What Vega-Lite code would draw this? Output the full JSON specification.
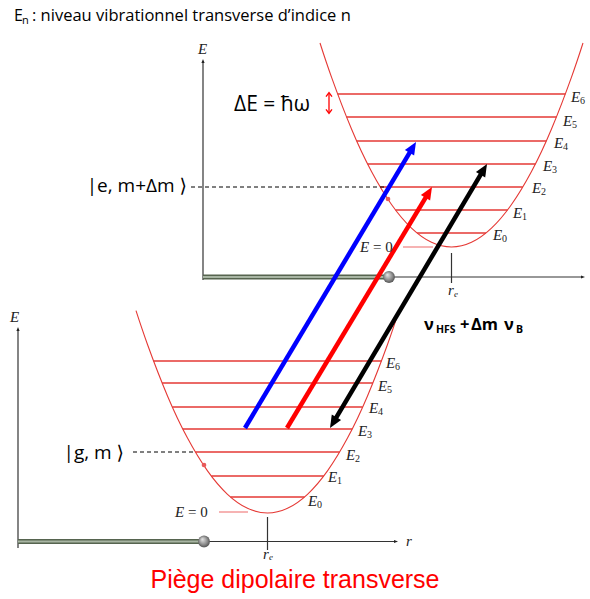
{
  "$schema": "https://vega.github.io/schema/vega-lite/v6.json",
  "width": 590,
  "height": 599,
  "autosize": {"type": "none"},
  "padding": 0,
  "background": "white",
  "config": {"view": {"stroke": null}},
  "datasets": {
    "par": [
      {"w": "u", "x": 320, "y": 43.0}, {"w": "u", "x": 331.5, "y": 77.1}, {"w": "u", "x": 351.5, "y": 129.0},
      {"w": "u", "x": 371.5, "y": 171.5}, {"w": "u", "x": 391.5, "y": 204.5}, {"w": "u", "x": 411.5, "y": 228.1},
      {"w": "u", "x": 431.5, "y": 242.3}, {"w": "u", "x": 451.5, "y": 247}, {"w": "u", "x": 471.5, "y": 242.3},
      {"w": "u", "x": 491.5, "y": 228.1}, {"w": "u", "x": 511.5, "y": 204.5}, {"w": "u", "x": 531.5, "y": 171.5},
      {"w": "u", "x": 551.5, "y": 129.0}, {"w": "u", "x": 571.5, "y": 77.1}, {"w": "u", "x": 583, "y": 43.0},
      {"w": "l", "x": 136, "y": 310.7}, {"w": "l", "x": 147.5, "y": 344.5}, {"w": "l", "x": 167.5, "y": 396},
      {"w": "l", "x": 187.5, "y": 438.1}, {"w": "l", "x": 207.5, "y": 470.9}, {"w": "l", "x": 227.5, "y": 494.3},
      {"w": "l", "x": 247.5, "y": 508.3}, {"w": "l", "x": 267.5, "y": 513}, {"w": "l", "x": 287.5, "y": 508.3},
      {"w": "l", "x": 307.5, "y": 494.3}, {"w": "l", "x": 327.5, "y": 470.9}, {"w": "l", "x": 347.5, "y": 438.1},
      {"w": "l", "x": 367.5, "y": 396}, {"w": "l", "x": 387.5, "y": 344.5}, {"w": "l", "x": 399, "y": 310.7}
    ],
    "levels": [
      {"x": 417.1, "x2": 485.9, "y": 233}, {"x": 395.5, "x2": 507.5, "y": 210}, {"x": 380.2, "x2": 522.8, "y": 187},
      {"x": 367.6, "x2": 535.4, "y": 164}, {"x": 356.7, "x2": 546.3, "y": 141}, {"x": 346.5, "x2": 556.5, "y": 117},
      {"x": 337.6, "x2": 565.4, "y": 94},
      {"x": 230.5, "x2": 304.5, "y": 497}, {"x": 211.3, "x2": 323.7, "y": 476}, {"x": 195.3, "x2": 339.7, "y": 452},
      {"x": 182.8, "x2": 352.2, "y": 429}, {"x": 172.3, "x2": 362.7, "y": 407}, {"x": 162.1, "x2": 372.9, "y": 383},
      {"x": 153.5, "x2": 381.5, "y": 361}
    ],
    "zero": [{"x": 403, "x2": 433, "y": 247}, {"x": 219, "x2": 248, "y": 512}],
    "dash": [{"x": 191, "x2": 384, "y": 187}, {"x": 133, "x2": 193, "y": 452}],
    "axes": [
      {"x": 203, "y": 61, "x2": 203, "y2": 280}, {"x": 203, "y": 277, "x2": 582, "y2": 277},
      {"x": 18, "y": 329, "x2": 18, "y2": 548}, {"x": 18, "y": 541.5, "x2": 395, "y2": 541.5},
      {"x": 451.5, "y": 253, "x2": 451.5, "y2": 283}, {"x": 267.5, "y": 517, "x2": 267.5, "y2": 550}
    ],
    "bars": [{"x": 203, "x2": 389, "y": 277}, {"x": 18, "x2": 204, "y": 541.5}],
    "axisHeads": [{"x": 203, "y": 59, "a": 0}, {"x": 585, "y": 277, "a": 90}, {"x": 18, "y": 327, "a": 0}, {"x": 398, "y": 541.5, "a": 90}],
    "beams": [
      {"b": "blue", "x": 245, "y": 428, "x2": 411.9, "y2": 148.9},
      {"b": "red", "x": 287, "y": 428, "x2": 427.9, "y2": 193.9},
      {"b": "black", "x": 334.1, "y": 421.1, "x2": 482.9, "y2": 170.9}
    ],
    "heads": [
      {"b": "blue", "x": 416, "y": 142, "a": 31},
      {"b": "red", "x": 432, "y": 187, "a": 31},
      {"b": "black", "x": 487, "y": 164, "a": 30.7},
      {"b": "black", "x": 330, "y": 428, "a": 210.7}
    ],
    "balls": [{"x": 389, "y": 277}, {"x": 204, "y": 541.5}],
    "dots": [{"x": 388, "y": 199}, {"x": 204, "y": 465}],
    "dE": [{"x": 329, "y": 94, "y2": 112}],
    "dEheads": [{"x": 329, "y": 92.5, "a": 0}, {"x": 329, "y": 113.5, "a": 180}],
    "levelLab": [
      {"x": 493, "y": 235, "s": "0"}, {"x": 513, "y": 213, "s": "1"}, {"x": 532, "y": 188, "s": "2"},
      {"x": 543, "y": 166, "s": "3"}, {"x": 554, "y": 143, "s": "4"}, {"x": 563, "y": 121, "s": "5"},
      {"x": 571, "y": 97, "s": "6"},
      {"x": 308, "y": 501, "s": "0"}, {"x": 328, "y": 477, "s": "1"}, {"x": 346, "y": 455, "s": "2"},
      {"x": 358, "y": 431, "s": "3"}, {"x": 369, "y": 408, "s": "4"}, {"x": 378, "y": 386, "s": "5"},
      {"x": 386, "y": 363, "s": "6"}
    ],
    "mathT": [
      {"x": 198, "y": 49, "t": "E"}, {"x": 10, "y": 317, "t": "E"}, {"x": 406, "y": 541, "t": "r"},
      {"x": 448, "y": 290, "t": "r"}, {"x": 263, "y": 554, "t": "r"},
      {"x": 360, "y": 247, "t": "E"}, {"x": 175, "y": 512, "t": "E"}
    ],
    "reSub": [{"x": 454, "y": 294, "t": "e"}, {"x": 269, "y": 557, "t": "e"}],
    "eq0": [{"x": 373, "y": 247, "t": "= 0"}, {"x": 188, "y": 512, "t": "= 0"}],
    "kets": [
      {"x": 187, "y": 186, "t": "|e, m+Δm ⟩"},
      {"x": 124, "y": 453, "t": "|g, m ⟩"}
    ],
    "dEtext": [{"x": 234, "y": 105, "t": "ΔE = ħω"}],
    "nuMain": [{"x": 424, "y": 325, "t": "ν"}, {"x": 460, "y": 325, "t": "+"}, {"x": 471, "y": 325, "t": "Δm"}, {"x": 504, "y": 325, "t": "ν"}],
    "nuSub": [{"x": 436, "y": 330, "t": "HFS"}, {"x": 516, "y": 330, "t": "B"}],
    "topE": [{"x": 14, "y": 16, "t": "E"}],
    "topSub": [{"x": 22, "y": 21, "t": "n"}],
    "topText": [{"x": 32, "y": 16, "t": ": niveau vibrationnel transverse d’indice n"}],
    "title": [{"x": 295, "y": 580, "t": "Piège dipolaire transverse"}]
  },
  "encoding": {
    "x": {"field": "x", "type": "quantitative", "scale": {"domain": [0, 590], "range": [0, 590], "nice": false, "zero": false}, "axis": null},
    "y": {"field": "y", "type": "quantitative", "scale": {"domain": [0, 599], "range": [0, 599], "nice": false, "zero": false}, "axis": null}
  },
  "layer": [
    {"data": {"name": "levels"}, "mark": {"type": "rule", "color": "#e53935", "strokeWidth": 1.3}, "encoding": {"x2": {"field": "x2"}}},
    {"data": {"name": "zero"}, "mark": {"type": "rule", "color": "#f28a8a", "strokeWidth": 1.3}, "encoding": {"x2": {"field": "x2"}}},
    {"data": {"name": "par"}, "mark": {"type": "line", "color": "#e53935", "strokeWidth": 1.1, "interpolate": "natural"}, "encoding": {"detail": {"field": "w"}}},
    {"data": {"name": "dash"}, "mark": {"type": "rule", "color": "#000", "strokeWidth": 1, "strokeDash": [4, 3]}, "encoding": {"x2": {"field": "x2"}}},
    {"data": {"name": "axes"}, "mark": {"type": "rule", "color": "#333", "strokeWidth": 1.2}, "encoding": {"x2": {"field": "x2"}, "y2": {"field": "y2"}}},
    {"data": {"name": "bars"}, "mark": {"type": "rule", "color": "#56644f", "strokeWidth": 5}, "encoding": {"x2": {"field": "x2"}}},
    {"data": {"name": "bars"}, "mark": {"type": "rule", "color": "#a8b5a3", "strokeWidth": 2}, "encoding": {"x2": {"field": "x2"}}},
    {"data": {"name": "axisHeads"}, "mark": {"type": "point", "shape": "M0,0L-0.8,2L0.8,2Z", "filled": true, "color": "#222", "size": 16, "opacity": 1},
     "encoding": {"angle": {"field": "a", "type": "quantitative", "scale": null}}},
    {"data": {"name": "beams"}, "mark": {"type": "rule", "strokeWidth": 4.5},
     "encoding": {"x2": {"field": "x2"}, "y2": {"field": "y2"}, "color": {"field": "b", "type": "nominal", "scale": {"domain": ["blue", "red", "black"], "range": ["#0000ff", "#ff0000", "#000000"]}, "legend": null}}},
    {"data": {"name": "heads"}, "mark": {"type": "point", "shape": "M0,0L-0.9,2.1L0.9,2.1Z", "filled": true, "size": 144, "opacity": 1},
     "encoding": {"angle": {"field": "a", "type": "quantitative", "scale": null}, "color": {"field": "b", "type": "nominal", "scale": {"domain": ["blue", "red", "black"], "range": ["#0000ff", "#ff0000", "#000000"]}, "legend": null}}},
    {"data": {"name": "balls"}, "mark": {"type": "point", "shape": "circle", "size": 140, "opacity": 1, "strokeWidth": 0,
      "fill": {"gradient": "radial", "x1": 0.35, "y1": 0.3, "r1": 0, "x2": 0.5, "y2": 0.5, "r2": 0.6, "stops": [{"offset": 0, "color": "#e8e8e8"}, {"offset": 0.6, "color": "#8a8a8a"}, {"offset": 1, "color": "#3a3a3a"}]}}},
    {"data": {"name": "dots"}, "mark": {"type": "point", "shape": "circle", "filled": true, "size": 22, "color": "#e85a5a", "opacity": 1}},
    {"data": {"name": "dE"}, "mark": {"type": "rule", "color": "#ff0000", "strokeWidth": 1.3}, "encoding": {"y2": {"field": "y2"}}},
    {"data": {"name": "dEheads"}, "mark": {"type": "point", "shape": "M-1,1.4L0,0L1,1.4", "filled": false, "color": "#ff0000", "strokeWidth": 1.3, "size": 36, "opacity": 1},
     "encoding": {"angle": {"field": "a", "type": "quantitative", "scale": null}}},
    {"data": {"name": "levelLab"}, "mark": {"type": "text", "text": "E", "font": "Liberation Serif", "fontStyle": "italic", "fontSize": 15, "align": "left", "baseline": "middle", "color": "#222"}},
    {"data": {"name": "levelLab"}, "mark": {"type": "text", "font": "Liberation Serif", "fontSize": 10, "align": "left", "baseline": "middle", "dx": 9, "dy": 4, "color": "#222"}, "encoding": {"text": {"field": "s"}}},
    {"data": {"name": "mathT"}, "mark": {"type": "text", "font": "Liberation Serif", "fontStyle": "italic", "fontSize": 15, "align": "left", "baseline": "middle", "color": "#222"}, "encoding": {"text": {"field": "t"}}},
    {"data": {"name": "reSub"}, "mark": {"type": "text", "font": "Liberation Serif", "fontStyle": "italic", "fontSize": 9, "align": "left", "baseline": "middle", "color": "#222"}, "encoding": {"text": {"field": "t"}}},
    {"data": {"name": "eq0"}, "mark": {"type": "text", "font": "Liberation Serif", "fontSize": 15, "align": "left", "baseline": "middle", "color": "#222"}, "encoding": {"text": {"field": "t"}}},
    {"data": {"name": "kets"}, "mark": {"type": "text", "font": "Open Sans, DejaVu Sans", "fontSize": 19, "align": "right", "baseline": "middle", "color": "#000"}, "encoding": {"text": {"field": "t"}}},
    {"data": {"name": "dEtext"}, "mark": {"type": "text", "font": "Open Sans", "fontSize": 21, "align": "left", "baseline": "middle", "color": "#000"}, "encoding": {"text": {"field": "t"}}},
    {"data": {"name": "nuMain"}, "mark": {"type": "text", "font": "Open Sans", "fontSize": 16.5, "fontWeight": "bold", "align": "left", "baseline": "middle", "color": "#000"}, "encoding": {"text": {"field": "t"}}},
    {"data": {"name": "nuSub"}, "mark": {"type": "text", "font": "Open Sans", "fontSize": 10.5, "fontWeight": "bold", "align": "left", "baseline": "middle", "color": "#000"}, "encoding": {"text": {"field": "t"}}},
    {"data": {"name": "topE"}, "mark": {"type": "text", "font": "Open Sans", "fontSize": 16, "align": "left", "baseline": "middle", "color": "#000"}, "encoding": {"text": {"field": "t"}}},
    {"data": {"name": "topSub"}, "mark": {"type": "text", "font": "Open Sans", "fontSize": 11, "align": "left", "baseline": "middle", "color": "#000"}, "encoding": {"text": {"field": "t"}}},
    {"data": {"name": "topText"}, "mark": {"type": "text", "font": "Open Sans", "fontSize": 16.5, "align": "left", "baseline": "middle", "color": "#000"}, "encoding": {"text": {"field": "t"}}},
    {"data": {"name": "title"}, "mark": {"type": "text", "font": "Liberation Sans", "fontSize": 25, "align": "center", "baseline": "middle", "color": "#ff0000"}, "encoding": {"text": {"field": "t"}}}
  ]
}
